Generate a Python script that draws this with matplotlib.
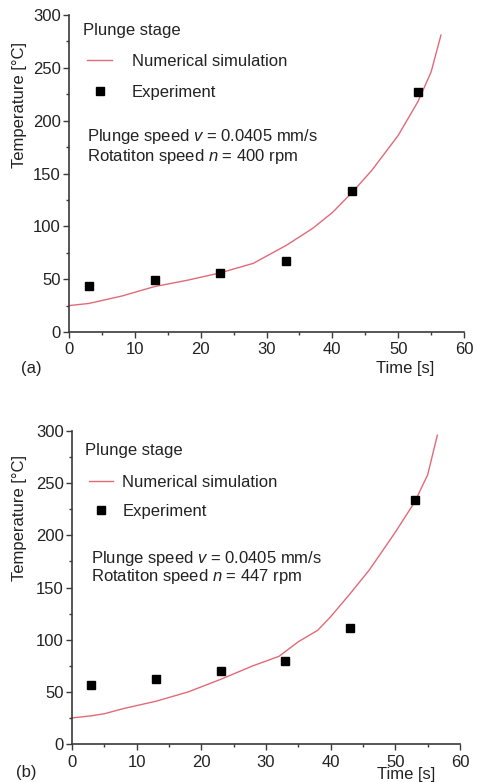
import matplotlib
matplotlib.use("Agg")
import matplotlib.pyplot as plt
from matplotlib.lines import Line2D
from matplotlib.ticker import MultipleLocator

plt.rcParams['font.family'] = ['Liberation Sans', 'DejaVu Sans']
plt.rcParams['mathtext.fontset'] = 'custom'
plt.rcParams['mathtext.rm'] = 'Liberation Sans'
plt.rcParams['mathtext.it'] = 'Liberation Sans:italic'

# ---- data (a) ----
sim_t_a = [0, 3, 8, 13, 18, 23, 28, 33, 37, 40, 43, 46, 50, 53, 55, 56.5]
sim_T_a = [25, 27, 34, 43, 49, 56, 65, 82, 98, 113, 132, 153, 186, 218, 246, 281]
exp_t_a = [3, 13, 23, 33, 43, 53]
exp_T_a = [44, 49, 56, 67, 133, 227]

# ---- data (b) ----
sim_t_b = [0, 3, 5, 8, 13, 18, 23, 28, 32, 35, 38, 40, 43, 46, 50, 53, 55, 56.5]
sim_T_b = [25, 27, 29, 34, 41, 50, 62, 75, 84, 98, 109, 122, 144, 167, 203, 232, 258, 296]
exp_t_b = [3, 13, 23, 33, 43, 53]
exp_T_b = [57, 62, 70, 80, 111, 234]

x_ticks = [0, 10, 20, 30, 40, 50, 60]
y_ticks = [0, 50, 100, 150, 200, 250, 300]
rpm_a = "400"
rpm_b = "447"

W, H = 478, 782
fig = plt.figure(figsize=(W / 100, H / 100), dpi=100)


def fx(px):
    return px / W


def fy(py):
    return 1 - py / H


LINE_C = '#e26a78'
SPINE_C = '#3a3a3a'
TXT_C = '#222222'
FS = 12
FT = 12
MS = 5.2


def make_panel(rect, sim_t, sim_T, exp_t, exp_T, rpm, tag, pos):
    ax = fig.add_axes(rect)
    ax.plot(sim_t, sim_T, color=LINE_C, lw=1.0, zorder=2)
    ax.plot(exp_t, exp_T, ls='none', marker='s', ms=MS, color='black', zorder=3)
    ax.set_xlim(0, 60)
    ax.set_ylim(0, 300)
    ax.set_xticks(x_ticks)
    ax.set_yticks(y_ticks)
    ax.xaxis.set_minor_locator(MultipleLocator(5))
    ax.yaxis.set_minor_locator(MultipleLocator(25))
    for s in ['top', 'right']:
        ax.spines[s].set_visible(False)
    for s in ['left', 'bottom']:
        ax.spines[s].set_color(SPINE_C)
        ax.spines[s].set_linewidth(1.2)
    ax.tick_params(which='major', direction='out', length=4.0, width=1.0,
                   color=SPINE_C, labelsize=FS, labelcolor=TXT_C)
    ax.tick_params(which='minor', direction='out', length=2.2, width=1.0, color=SPINE_C)
    ax.tick_params(axis='x', which='major', pad=pos['xpad'])
    ax.tick_params(axis='y', which='major', pad=2.0)
    ax.patch.set_alpha(0)

    # texts
    fig.text(fx(pos['ylab_x']), fy(pos['ylab_y']), 'Temperature [°C]', rotation=90,
             ha='center', va='center', fontsize=FS, color=TXT_C)
    fig.text(fx(pos['stage'][0]), fy(pos['stage'][1]), 'Plunge stage',
             ha='left', va='center', fontsize=FT, color=TXT_C)
    fig.text(fx(pos['sp'][0]), fy(pos['sp'][1]), r'Plunge speed $\it{v}$ = 0.0405 mm/s',
             ha='left', va='center', fontsize=FT, color=TXT_C)
    fig.text(fx(pos['sp'][0]), fy(pos['sp'][1] + 19), r'Rotatiton speed $\it{n}$ = ' + rpm + ' rpm',
             ha='left', va='center', fontsize=FT, color=TXT_C)
    fig.text(fx(pos['tag'][0]), fy(pos['tag'][1]), tag, ha='left', va='center',
             fontsize=FS, color=TXT_C)
    fig.text(fx(pos['time'][0]), fy(pos['time'][1]), 'Time [s]', ha='right', va='center',
             fontsize=FS, color=TXT_C)

    handles = [Line2D([], [], color=LINE_C, lw=1.0),
               Line2D([], [], ls='none', marker='s', ms=MS, color='black')]
    leg = fig.legend(handles, ['Numerical simulation', 'Experiment'],
                     loc='upper left', bbox_to_anchor=(fx(pos['leg'][0]), fy(pos['leg'][1])),
                     bbox_transform=fig.transFigure, frameon=False, fontsize=FT,
                     borderpad=0, borderaxespad=0, handlelength=pos['hl'],
                     handletextpad=pos['htp'], labelspacing=pos['ls'])
    for t in leg.get_texts():
        t.set_color(TXT_C)
    return ax


# panel (a): axis x 69..464, y 15..332
make_panel([fx(69), fy(332), fx(464) - fx(69), fy(15) - fy(332)],
           sim_t_a, sim_T_a, exp_t_a, exp_T_a, rpm_a, '(a)',
           dict(ylab_x=20, ylab_y=105, stage=(83, 31), sp=(87, 137), tag=(21, 368),
                time=(434, 368), leg=(87, 54), hl=1.5, htp=1.2, ls=0.95, xpad=3.5))

# panel (b): axis x 72..460, y 431..744
make_panel([fx(72), fy(744), fx(460) - fx(72), fy(431) - fy(744)],
           sim_t_b, sim_T_b, exp_t_b, exp_T_b, rpm_b, '(b)',
           dict(ylab_x=20, ylab_y=518, stage=(85, 451), sp=(91, 558), tag=(16, 773),
                time=(435, 774), leg=(89, 475), hl=1.45, htp=0.55, ls=0.82, xpad=3.8))

fig.savefig('out.png', dpi=100)
